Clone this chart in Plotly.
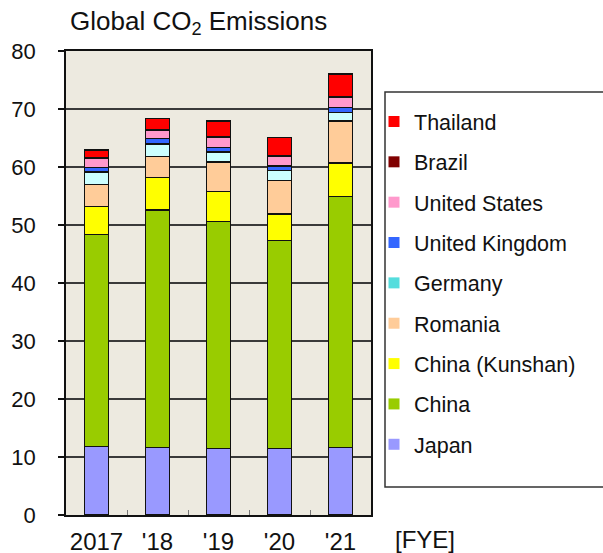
import plotly.graph_objects as go

# Fiscal years (x categories)
years = ["2017", "'18", "'19", "'20", "'21"]

# Emissions by region, stacked bottom to top
japan = [11.8, 11.6, 11.5, 11.5, 11.6]
china = [36.6, 41.0, 39.1, 35.8, 43.3]
china_kunshan = [4.8, 5.6, 5.2, 4.6, 5.8]
romania = [3.8, 3.6, 5.1, 5.8, 7.2]
germany = [2.1, 2.2, 1.7, 1.7, 1.5]
united_kingdom = [0.8, 0.9, 0.8, 0.8, 0.9]
united_states = [1.6, 1.5, 1.7, 1.6, 1.7]
brazil = [0.1, 0.1, 0.1, 0.1, 0.1]
thailand = [1.35, 1.9, 2.7, 3.15, 3.95]

series = [
    ("Japan", japan, "#9999FF", "#9999FF"),
    ("China", china, "#99CC00", "#99CC00"),
    ("China (Kunshan)", china_kunshan, "#FFFF00", "#FFFF00"),
    ("Romania", romania, "#FFCC99", "#FFCC99"),
    ("Germany", germany, "#CCFFFF", "#55DDDD"),
    ("United Kingdom", united_kingdom, "#3366FF", "#3366FF"),
    ("United States", united_states, "#FF99CC", "#FF99CC"),
    ("Brazil", brazil, "#800000", "#800000"),
    ("Thailand", thailand, "#FF0000", "#FF0000"),
]

FONT = "Liberation Sans, Arial, sans-serif"

# plot area in pixels: x 66..371, y 51..515
PL, PR, PT, PB = 66, 371, 51, 515
PW, PH = PR - PL, PB - PT


def px_x(x):
    return (x - PL) / PW


def px_y(y):
    return (PB - y) / PH


fig = go.Figure()
for name, vals, bar_color, _ in series:
    fig.add_trace(go.Bar(
        x=years, y=vals, name=name, width=0.4,
        marker=dict(color=bar_color, line=dict(color="#111111", width=1.5)),
        showlegend=False,
    ))

# legend keys, top entry = top of the stack
for name, _, _, key_color in reversed(series):
    fig.add_trace(go.Scatter(
        x=[None], y=[None], mode="markers", name=name,
        legendgroup=name,
        marker=dict(symbol="square", size=11, color=key_color),
    ))

fig.update_layout(
    width=603, height=553,
    margin=dict(l=PL, r=603 - PR, t=PT, b=553 - PB, autoexpand=False),
    barmode="stack",
    paper_bgcolor="white",
    plot_bgcolor="#EDEAE0",
    font=dict(family=FONT, size=20, color="#111111"),
    legend=dict(
        x=px_x(374), xanchor="left", y=px_y(101), yanchor="top",
        traceorder="grouped",
        bgcolor="rgba(0,0,0,0)", borderwidth=0,
        font=dict(size=21.5),
        tracegroupgap=9.4,
        itemwidth=30,
    ),
    xaxis=dict(
        type="category",
        range=[-0.5, 4.5],
        automargin=False,
        showline=True, linecolor="#111111", linewidth=1.5, mirror=True,
        ticks="inside", ticklen=5, tickcolor="#777777", tickwidth=1,
        tickson="boundaries",
        showgrid=False,
        tickangle=0,
        tickfont=dict(size=24),
        ticklabelstandoff=4,
    ),
    yaxis=dict(
        range=[0, 80], dtick=10,
        automargin=False,
        showline=True, linecolor="#111111", linewidth=1.5, mirror=True,
        ticks="outside", ticklen=6, tickcolor="#111111", tickwidth=1.5,
        showgrid=True, gridcolor="#3a3a3a", gridwidth=1.5,
        zeroline=False,
        tickfont=dict(size=22),
        ticklabelstandoff=18,
    ),
    shapes=[
        # legend frame
        dict(type="rect", xref="paper", yref="paper",
             x0=px_x(385), x1=px_x(640), y0=px_y(487), y1=px_y(92),
             line=dict(color="#333333", width=1.5), fillcolor="white",
             layer="below"),
    ],
    annotations=[
        dict(text="Global CO<sub>2</sub> Emissions", xref="paper", yref="paper",
             x=px_x(68), y=px_y(22), xanchor="left", yanchor="middle",
             showarrow=False, font=dict(size=26)),
        dict(text="[FYE]", xref="paper", yref="paper",
             x=px_x(425), y=px_y(539), xanchor="center", yanchor="middle",
             showarrow=False, font=dict(size=24)),
    ],
)

fig.write_html("out.html")
